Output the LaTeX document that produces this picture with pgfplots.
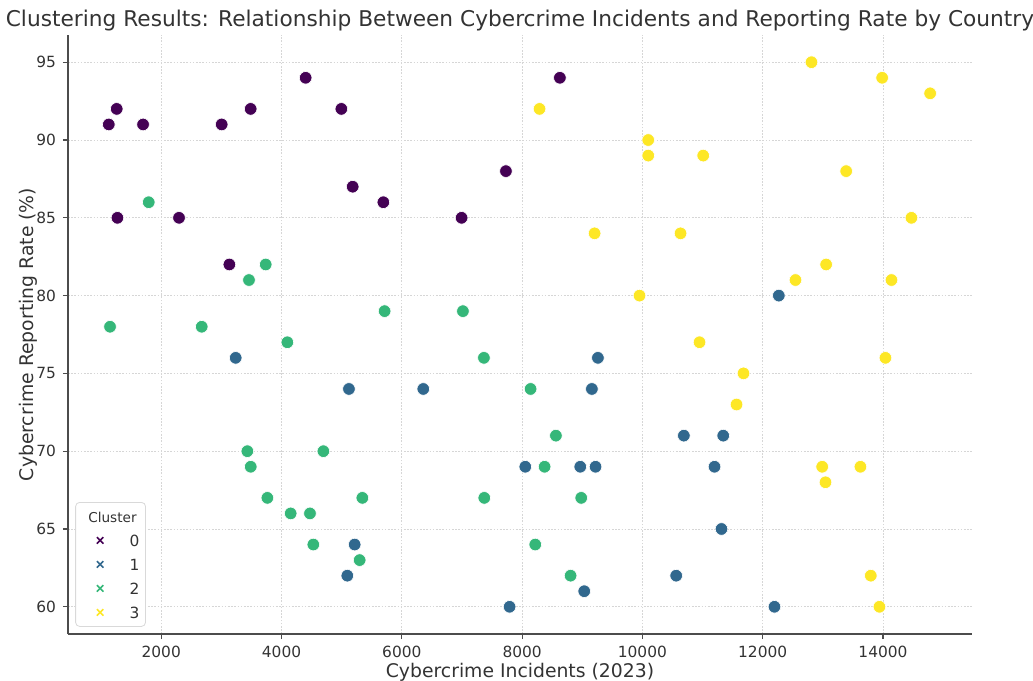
\documentclass[border=0pt]{standalone}
\usepackage{pgfplots}
\pgfplotsset{compat=1.18}
\usepackage{fontspec}
\setmainfont{DejaVu Sans}
\definecolor{c0}{HTML}{440154}
\definecolor{c1}{HTML}{31688E}
\definecolor{c2}{HTML}{35B779}
\definecolor{c3}{HTML}{FDE725}
\definecolor{txt}{HTML}{333333}
\begin{document}
\begin{tikzpicture}
\useasboundingbox (-34pt,-23pt) rectangle (482.5pt,317pt);
\begin{axis}[
  at={(0,0)}, anchor=south west,
  scale only axis, width=452pt, height=299.5pt,
  xmin=450, xmax=15480, ymin=58.25, ymax=96.75,
  xtick={2000,4000,...,14000}, ytick={60,65,...,95},
  scaled x ticks=false,
  /pgf/number format/assume math mode=true,
  xticklabel={\pgfmathprintnumber[fixed,precision=0,1000 sep={}]{\tick}},
  axis lines*=left,
  axis line style={-, black!70, line width=0.8pt},
  tick align=outside,
  major tick length=2.5pt,
  tick style={black!70, line width=0.6pt},
  grid=major,
  grid style={black!16, dash pattern=on 0.8pt off 0.8pt, line width=0.4pt},
  ticklabel style={font=\fontsize{7.7}{9}\selectfont, text=txt},
  every axis title shift=0pt,
  title={Clustering Results: Relationship Between Cybercrime Incidents and Reporting Rate by Country},
  title style={at={(axis description cs:0.5,1.015)}, anchor=base, font=\fontsize{10.85}{12}\selectfont, text=txt},
  xlabel={Cybercrime Incidents (2023)},
  xlabel style={at={(axis description cs:0.5,-0.0730)}, anchor=base, font=\fontsize{9.4}{11}\selectfont, text=txt},
  ylabel={Cybercrime Reporting Rate (\%)},
  ylabel style={at={(axis description cs:-0.0385,0.5)}, anchor=base, font=\fontsize{9.4}{11}\selectfont, text=txt},
  legend image code/.code={\path (-8.85pt,0pt) (2pt,0pt); \draw[#1] plot coordinates {(0pt,0pt)};},
  legend style={at={(axis description cs:0.008,0.012)}, anchor=south west, draw=black!15, rounded corners=2pt, fill=white,
    font=\fontsize{7.7}{9}\selectfont, text=txt, inner xsep=3pt, inner ysep=4.2pt,
    nodes={inner sep=0pt, text height=5.6pt, text depth=0pt}, row sep=6.4pt, column sep=12.4pt},
  legend cell align=left,
]
\addplot[only marks, mark=*, mark size=3.15pt, color=c0, mark options={draw=white, line width=0.3pt}, forget plot] coordinates {
(1128,91)(1260,92)(1698,91)(1272,85)(2296,85)(3005,91)(3487,92)(3133,82)(4401,94)(4995,92)(5183,87)(5693,86)(6994,85)(7731,88)(8628,94)
};
\addplot[only marks, mark=*, mark size=3.15pt, color=c1, mark options={draw=white, line width=0.3pt}, forget plot] coordinates {
(12268,80)(3238,76)(9260,76)(5121,74)(6357,74)(9160,74)(10689,71)(11344,71)(8053,69)(8967,69)(9221,69)(11199,69)(11315,65)(5216,64)(5094,62)(10562,62)(9033,61)(7792,60)(12196,60)
};
\addplot[only marks, mark=*, mark size=3.15pt, color=c2, mark options={draw=white, line width=0.3pt}, forget plot] coordinates {
(1792,86)(3737,82)(3459,81)(1149,78)(2673,78)(5714,79)(7016,79)(4097,77)(7365,76)(8141,74)(8562,71)(3432,70)(4696,70)(3488,69)(8374,69)(3765,67)(5344,67)(7371,67)(8983,67)(4152,66)(4473,66)(4529,64)(8219,64)(5299,63)(8806,62)
};
\addplot[only marks, mark=*, mark size=3.15pt, color=c3, mark options={draw=white, line width=0.3pt}, forget plot] coordinates {
(12811,95)(13986,94)(14784,93)(8290,92)(10097,90)(10097,89)(11011,89)(13388,88)(14473,85)(9205,84)(10634,84)(13055,82)(12545,81)(14141,81)(9952,80)(10950,77)(14041,76)(11681,75)(11565,73)(12989,69)(13625,69)(13044,68)(13797,62)(13941,60)
};
\addlegendimage{empty legend}
\addlegendentry{\hspace{-20.7pt}\fontsize{6.8}{8}\selectfont Cluster}
\addlegendimage{only marks, mark=x, mark size=2.3pt, color=c0, line width=0.8pt}
\addlegendentry{0}
\addlegendimage{only marks, mark=x, mark size=2.3pt, color=c1, line width=0.8pt}
\addlegendentry{1}
\addlegendimage{only marks, mark=x, mark size=2.3pt, color=c2, line width=0.8pt}
\addlegendentry{2}
\addlegendimage{only marks, mark=x, mark size=2.3pt, color=c3, line width=0.8pt}
\addlegendentry{3}
\end{axis}
\end{tikzpicture}
\end{document}
